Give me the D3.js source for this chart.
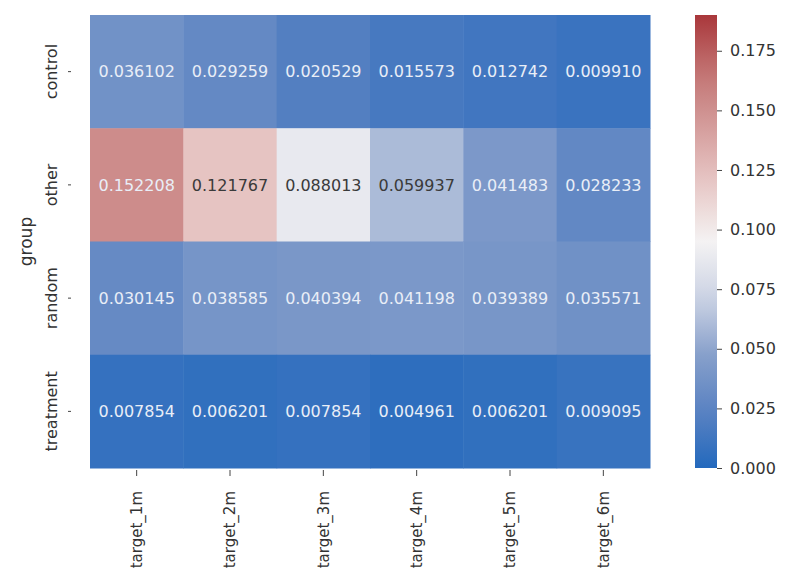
<!DOCTYPE html>
<html>
<head>
<meta charset="utf-8">
<script src="https://cdn.jsdelivr.net/npm/d3@7"></script>
<style>
  body { margin: 0; background: #fff; }
  text { font-family: "DejaVu Sans", sans-serif; }
</style>
</head>
<body>
<svg id="chart" width="801" height="585"></svg>
<script>
const groups = ['control', 'other', 'random', 'treatment'];
const targets = ['target_1m', 'target_2m', 'target_3m', 'target_4m', 'target_5m', 'target_6m'];
const control = [0.036102, 0.029259, 0.020529, 0.015573, 0.012742, 0.009910];
const other = [0.152208, 0.121767, 0.088013, 0.059937, 0.041483, 0.028233];
const random = [0.030145, 0.038585, 0.040394, 0.041198, 0.039389, 0.035571];
const treatment = [0.007854, 0.006201, 0.007854, 0.004961, 0.006201, 0.009095];
const colorTicks = [0.000, 0.025, 0.050, 0.075, 0.100, 0.125, 0.150, 0.175];

const rows = [control, other, random, treatment];
const cells = [];
rows.forEach((vals, r) => vals.forEach((v, c) => cells.push({ group: groups[r], target: targets[c], value: v })));

const svg = d3.select('#chart');
const plotL = 90, plotR = 650, plotT = 15, plotB = 468;

const x = d3.scaleBand().domain(targets).range([plotL, plotR]);
const y = d3.scaleBand().domain(groups).range([plotT, plotB]);

// vlag-like colormap, vmin 0 / vmax 0.19
const vmax = 0.19;
const stops = ['#2369bd', '#5a82c2', '#87a0cb', '#ccd3e4', '#f4f2f3', '#e8c9c7', '#d59e9d', '#c27372', '#a9373b'];
const interp = d3.piecewise(d3.interpolateRgb, stops);
const color = v => interp(Math.max(0, Math.min(1, v / vmax)));

const g = svg.append('g');
g.selectAll('rect.cell')
    .data(cells)
    .enter().append('rect')
    .attr('class', 'cell')
    .attr('x', d => x(d.target))
    .attr('y', d => y(d.group))
    .attr('width', x.bandwidth() + 0.5)
    .attr('height', y.bandwidth() + 0.5)
    .attr('fill', d => color(d.value));

g.selectAll('text.val')
    .data(cells)
    .enter().append('text')
    .attr('class', 'val')
    .attr('x', d => x(d.target) + x.bandwidth() / 2)
    .attr('y', d => y(d.group) + y.bandwidth() / 2)
    .attr('dy', '0.36em')
    .attr('text-anchor', 'middle')
    .style('font-size', '16px')
    .attr('fill', d => {
        const c = d3.rgb(color(d.value));
        const lum = 0.2126 * c.r + 0.7152 * c.g + 0.0722 * c.b;
        return lum > 165 ? '#3a3a3a' : '#e9eef7';
    })
    .text(d => d.value.toFixed(6));

// y axis
const yAxis = svg.append('g').attr('transform', `translate(${plotL - 19},0)`)
    .call(d3.axisLeft(y).tickSize(3).tickPadding(6));
yAxis.select('.domain').remove();
yAxis.selectAll('line').attr('stroke', '#444');
yAxis.selectAll('.tick text')
    .attr('transform', 'rotate(-90)')
    .attr('x', 0)
    .attr('y', -14)
    .attr('dy', 0)
    .attr('text-anchor', 'middle')
    .attr('fill', '#333')
    .style('font-size', '16px');

svg.append('text')
    .attr('transform', `translate(32,${(plotT + plotB) / 2}) rotate(-90)`)
    .attr('text-anchor', 'middle')
    .attr('fill', '#333')
    .style('font-size', '17px')
    .text('group');

// x axis
const xAxis = svg.append('g').attr('transform', `translate(0,${plotB + 2})`)
    .call(d3.axisBottom(x).tickSize(6).tickPadding(4));
xAxis.select('.domain').remove();
xAxis.selectAll('line').attr('stroke', '#444');
xAxis.selectAll('.tick text')
    .attr('transform', 'rotate(-90)')
    .attr('x', -21).attr('y', 0)
    .attr('dy', '0.35em')
    .attr('text-anchor', 'end')
    .attr('fill', '#333')
    .style('font-size', '15px');

// colorbar
const cbX = 695, cbW = 22;
const cb = d3.scaleLinear().domain([0, vmax]).range([plotB, plotT]);
const defs = svg.append('defs');
const grad = defs.append('linearGradient').attr('id', 'cbgrad')
    .attr('x1', 0).attr('y1', 1).attr('x2', 0).attr('y2', 0);
d3.range(0, 1.0001, 0.05).forEach(t => {
    grad.append('stop').attr('offset', t).attr('stop-color', interp(t));
});
svg.append('rect')
    .attr('x', cbX).attr('y', plotT)
    .attr('width', cbW).attr('height', plotB - plotT)
    .attr('fill', 'url(#cbgrad)');
const cAxis = svg.append('g').attr('transform', `translate(${cbX + cbW},0)`)
    .call(d3.axisRight(cb).tickValues(colorTicks).tickFormat(d3.format('.3f')).tickSize(5).tickPadding(8));
cAxis.select('.domain').remove();
cAxis.selectAll('line').attr('stroke', '#444');
cAxis.selectAll('text').attr('fill', '#333').style('font-size', '16px');
</script>
</body>
</html>
